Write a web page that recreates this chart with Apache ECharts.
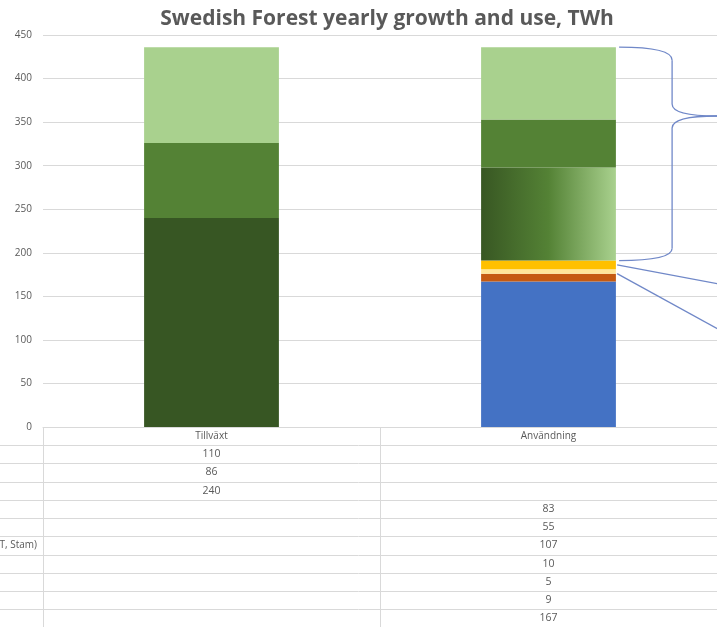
<!DOCTYPE html>
<html>
<head>
<meta charset="utf-8">
<script src="https://cdn.jsdelivr.net/npm/echarts@6/dist/echarts.min.js"></script>
<style>
html,body{margin:0;padding:0;background:#fff;}
#c{width:717px;height:627px;}
</style>
</head>
<body>
<div id="c"></div>
<script>
// ---- data ----
var categories = ['Tillväxt', 'Användning'];
var rowLabels = ['Grenar', 'Stubbar', 'Stam', 'Kvar', 'Förluster', 'Förädlat (SÅGT, Stam)', 'Ved', 'Övrigt', 'Export', 'Industri'];
var growthGrenar   = [110, null];
var growthStubbar  = [86, null];
var growthStam     = [240, null];
var useKvar        = [null, 83];
var useForluster   = [null, 55];
var useForadlat    = [null, 107];
var useVed         = [null, 10];
var useOvrigt      = [null, 5];
var useExport      = [null, 9];
var useIndustri    = [null, 167];
var yTicks = [0, 50, 100, 150, 200, 250, 300, 350, 400, 450];
// annotation anchor values (TWh)
var braceTop = 436, braceTip = 357, braceBottom = 191;
var line1Value = 186, line2Value = 176;

var tableRows = [growthGrenar, growthStubbar, growthStam, useKvar, useForluster, useForadlat, useVed, useOvrigt, useExport, useIndustri];
var colors = ['#A9D18E', '#548235', '#375623', '#A9D18E', '#548235',
  new echarts.graphic.LinearGradient(0, 0, 1, 0, [{offset: 0, color: '#385723'}, {offset: 0.5, color: '#548235'}, {offset: 1, color: '#A9D18E'}]),
  '#FFC000', '#FFE699', '#C55A11', '#4472C4'];

var chart = echarts.init(document.getElementById('c'), null, {renderer: 'canvas'});
var FONT = '"Open Sans", "Noto Sans", sans-serif';
var series = [];
for (var i = tableRows.length - 1; i >= 0; i--) {
  series.push({
    name: rowLabels[i], type: 'bar', stack: 'total', data: tableRows[i],
    barWidth: '40%', itemStyle: {color: colors[i]}, silent: true
  });
}
chart.setOption({
  animation: false,
  title: {
    text: 'Swedish Forest yearly growth and use, TWh',
    left: 382, top: 4, textAlign: 'center',
    textStyle: {fontFamily: FONT, fontWeight: 700, fontSize: 21, color: '#595959'}
  },
  grid: {left: 43, right: -2, top: 35, bottom: 200, containLabel: false},
  xAxis: {
    type: 'category', data: categories,
    axisLine: {show: true, lineStyle: {color: '#d9d9d9'}},
    axisTick: {show: false},
    axisLabel: {margin: 4, fontFamily: FONT, fontSize: 10, color: '#595959'}
  },
  yAxis: {
    type: 'value', min: yTicks[0], max: yTicks[yTicks.length - 1], interval: 50,
    axisLine: {show: false}, axisTick: {show: false},
    splitLine: {lineStyle: {color: '#d9d9d9'}},
    axisLabel: {margin: 11, fontFamily: FONT, fontSize: 10, color: '#595959'}
  },
  series: series
});

function px(cat, v) { return chart.convertToPixel({xAxisIndex: 0, yAxisIndex: 0}, [cat, v]); }
var g = [];
var grey = '#d9d9d9';
var y0 = px(0, 0)[1];
var gx0 = 43, gx1 = 719, midX = (px(0, 0)[0] + px(1, 0)[0]) / 2;
var rowH = 18.25;
var headerBottom = y0 + 18;
// table lines
for (var r = 0; r <= tableRows.length; r++) {
  var yy = Math.round(headerBottom + r * rowH) + 0.5;
  g.push({type: 'line', shape: {x1: -5, y1: yy, x2: 720, y2: yy}, style: {stroke: grey, lineWidth: 1}, silent: true});
}
[gx0, midX, gx1].forEach(function (x) {
  x = Math.round(x) + 0.5;
  g.push({type: 'line', shape: {x1: x, y1: y0, x2: x, y2: 640}, style: {stroke: grey, lineWidth: 1}, silent: true});
});
// table values and row labels
var ctx = document.createElement('canvas').getContext('2d');
ctx.font = '10px ' + FONT;
var maxW = 0;
rowLabels.forEach(function (l) { maxW = Math.max(maxW, ctx.measureText(l).width); });
var labelX = 37 - maxW;
tableRows.forEach(function (row, r) {
  var cy = headerBottom + r * rowH + rowH / 2;
  g.push({type: 'text', x: labelX, y: cy, style: {text: rowLabels[r], fill: '#595959', font: '10px ' + FONT, textAlign: 'left', textVerticalAlign: 'middle'}, silent: true});
  row.forEach(function (v, c) {
    if (v == null) return;
    g.push({type: 'text', x: px(c, 0)[0], y: cy, style: {text: String(v), fill: '#595959', font: '10.5px ' + FONT, textAlign: 'center', textVerticalAlign: 'middle'}, silent: true});
  });
});
// brace and pointer lines
var barCenter = px(1, 0)[0];
var halfBar = (gx1 - gx0) / 2 * 0.4 / 2;
var xb = barCenter + halfBar + 3, xv = xb + 53, xt = xb + 98;
var yT = px(1, braceTop)[1], yB = px(1, braceBottom)[1], yP = px(1, braceTip)[1];
var bc = '#7088c8';
var st = {stroke: bc, lineWidth: 1.3, fill: null};
g.push({type: 'bezierCurve', shape: {x1: xb, y1: yT, x2: xv, y2: yT + 13, cpx1: xv, cpy1: yT}, style: st, silent: true});
g.push({type: 'line', shape: {x1: xv, y1: yT + 13, x2: xv, y2: yP - 12}, style: st, silent: true});
g.push({type: 'bezierCurve', shape: {x1: xv, y1: yP - 12, x2: xt, y2: yP, cpx1: xv, cpy1: yP}, style: st, silent: true});
g.push({type: 'bezierCurve', shape: {x1: xt, y1: yP, x2: xv, y2: yP + 12, cpx1: xv, cpy1: yP}, style: st, silent: true});
g.push({type: 'line', shape: {x1: xv, y1: yP + 12, x2: xv, y2: yB - 12}, style: st, silent: true});
g.push({type: 'bezierCurve', shape: {x1: xv, y1: yB - 12, x2: xb, y2: yB, cpx1: xv, cpy1: yB}, style: st, silent: true});
var l1y = px(1, line1Value)[1], l2y = px(1, line2Value)[1];
g.push({type: 'line', shape: {x1: xb - 2, y1: l1y, x2: xb + 100, y2: l1y + 19}, style: st, silent: true});
g.push({type: 'line', shape: {x1: xb - 2, y1: l2y, x2: xb + 100, y2: l2y + 56}, style: st, silent: true});
chart.setOption({graphic: g});
</script>
</body>
</html>
